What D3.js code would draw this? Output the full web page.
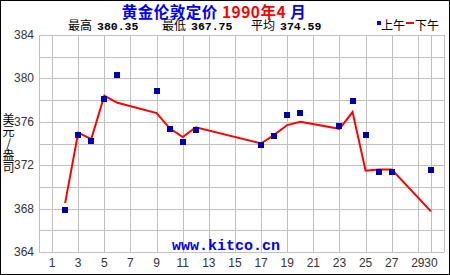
<!doctype html>
<html>
<head>
<meta charset="utf-8">
<style>
  html, body { margin: 0; padding: 0; background: #fff; }
  svg { display: block; }
  .tick-label { font-family: "Liberation Sans", Arial, sans-serif; font-size: 12px; fill: #333; }
</style>
</head>
<body>
<svg id="chart" width="450" height="275"></svg>
<script src="https://d3js.org/d3.v7.min.js"></script>
<script>
// AM (上午) and PM (下午) London fixing, April 1990
var days   = [2, 3, 4, 5, 6, 9, 10, 11, 12, 17, 18, 19, 20, 23, 24, 25, 26, 27, 30];
var amFix  = [367.9, 374.75, 374.2, 378.1, 380.35, 378.8, 375.3, 374.1, 375.2, 373.85, 374.65, 376.6, 376.8, 375.6, 377.9, 374.75, 371.35, 371.35, 371.55];
var pmFix  = [368.5, 375.0, 374.4, 378.4, 377.75, 376.8, 375.4, 374.6, 375.5, 374.0, 374.8, 375.7, 376.0, 375.35, 376.9, 371.5, 371.6, 371.6, 367.75];
var xTicks = [1, 3, 5, 7, 9, 11, 13, 15, 17, 19, 21, 23, 25, 27, 29, 30];
var yTicks = [364, 368, 372, 376, 380, 384];

var svg = d3.select("#chart");
var x = d3.scaleLinear().domain([0, 31]).range([39, 444]);
var y = d3.scaleLinear().domain([364, 384]).range([252, 35]);

// outer frame
svg.append("rect").attr("x", 0.5).attr("y", 0.5).attr("width", 449).attr("height", 274)
  .attr("fill", "#fff").attr("stroke", "#000");

// grid
var grid = svg.append("g").attr("stroke", "#c0c0c0").attr("stroke-width", 1).attr("shape-rendering", "crispEdges");
grid.selectAll("line.h").data(d3.range(364, 385, 2)).enter().append("line")
  .attr("x1", x(0)).attr("x2", x(31))
  .attr("y1", function(d) { return Math.round(y(d)) + 0.5; })
  .attr("y2", function(d) { return Math.round(y(d)) + 0.5; });
grid.selectAll("line.v").data(xTicks.concat([0, 31])).enter().append("line")
  .attr("y1", y(364)).attr("y2", y(384))
  .attr("x1", function(d) { return Math.round(x(d)) + 0.5; })
  .attr("x2", function(d) { return Math.round(x(d)) + 0.5; });

// axis labels
svg.append("g").selectAll("text").data(yTicks).enter().append("text")
  .attr("class", "tick-label").attr("text-anchor", "end")
  .attr("x", 34).attr("y", function(d) { return y(d) + 4; })
  .text(function(d) { return d; });
svg.append("g").selectAll("text").data(xTicks).enter().append("text")
  .attr("class", "tick-label").attr("text-anchor", "middle")
  .attr("x", function(d) { return x(d); }).attr("y", 267)
  .text(function(d) { return d; });

// y title, vertical
svg.append("text").attr("x", 8.5).attr("y", 113)
  .attr("font-family", "Noto Sans CJK SC").attr("font-size", 12).attr("fill", "#000")
  .style("writing-mode", "vertical-rl").style("text-orientation", "upright")
  .text("美元/盎司");

// watermark
svg.append("text").attr("x", 226).attr("y", 250).attr("text-anchor", "middle")
  .attr("font-family", "Liberation Mono, monospace").attr("font-weight", "bold")
  .attr("font-size", 15).attr("fill", "#0000ee").text("www.kitco.cn");

// PM line
var line = d3.line().x(function(d) { return x(d[0]); }).y(function(d) { return y(d[1]); });
svg.append("path").datum(days.map(function(d, i) { return [d, pmFix[i]]; }))
  .attr("d", line).attr("fill", "none").attr("stroke", "#ff0000").attr("stroke-width", 2);

// AM squares
svg.append("g").selectAll("rect").data(days).enter().append("rect")
  .attr("x", function(d) { return Math.round(x(d)) - 3; })
  .attr("y", function(d, i) { return Math.round(y(amFix[i])) - 3; })
  .attr("width", 6).attr("height", 6).attr("fill", "#0000aa");

// title
var title = svg.append("text").attr("x", 214).attr("y", 18).attr("text-anchor", "middle")
  .attr("font-family", "Noto Sans CJK SC").attr("font-weight", "bold").attr("font-size", 15.5)
  .attr("letter-spacing", 0.5);
title.append("tspan").attr("fill", "#0000ee").text("黄金伦敦定价 ");
title.append("tspan").attr("fill", "#ff0000").text("1990年4");
title.append("tspan").attr("fill", "#0000ee").text(" 月");

// stats line
var hi = d3.max(amFix.concat(pmFix)), lo = d3.min(amFix.concat(pmFix));
var stats = [["最高", hi.toFixed(2), 68], ["最低", lo.toFixed(2), 162], ["平均", "374.59", 251]];
stats.forEach(function(s) {
  svg.append("text").attr("x", s[2]).attr("y", 30).attr("font-family", "Noto Sans CJK SC")
    .attr("font-size", 12).attr("fill", "#000").text(s[0]);
  svg.append("text").attr("x", s[2] + 29).attr("y", 30).attr("font-family", "Liberation Mono, monospace")
    .attr("font-weight", "bold").attr("font-size", 11.5).attr("fill", "#000").text(s[1]);
});

// legend
svg.append("rect").attr("x", 377).attr("y", 21).attr("width", 4).attr("height", 4).attr("fill", "#0000ee");
svg.append("text").attr("x", 381).attr("y", 30).attr("font-family", "Noto Sans CJK SC")
  .attr("font-size", 12).attr("fill", "#000").text("上午");
svg.append("rect").attr("x", 406).attr("y", 22).attr("width", 8).attr("height", 2).attr("fill", "#ff0000");
svg.append("text").attr("x", 415).attr("y", 30).attr("font-family", "Noto Sans CJK SC")
  .attr("font-size", 12).attr("fill", "#000").text("下午");
</script>
</body>
</html>
